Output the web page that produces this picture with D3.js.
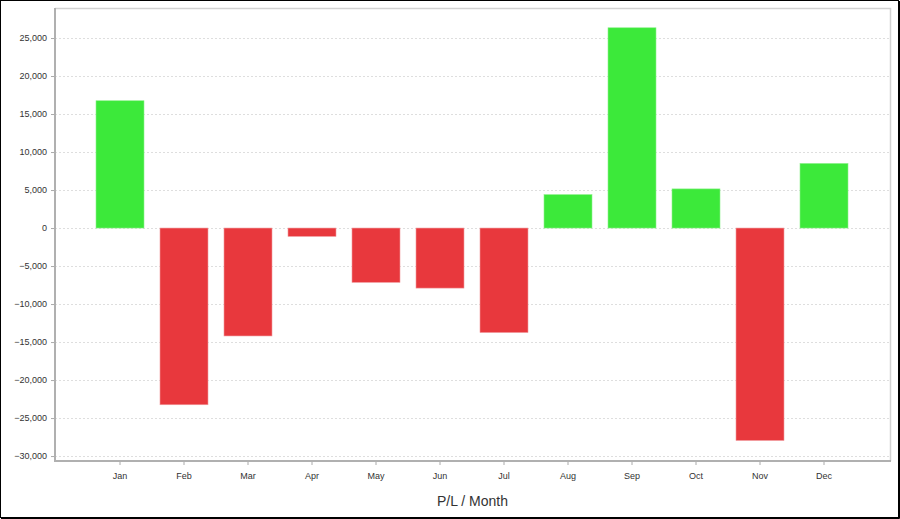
<!DOCTYPE html>
<html>
<head>
<meta charset="utf-8">
<script src="https://cdn.jsdelivr.net/npm/d3@7"></script>
<style>
  body { margin: 0; background: #fff; }
  svg { display: block; font-family: "Liberation Sans", Arial, sans-serif; }
</style>
</head>
<body>
<script>
  // P/L per month
  var months = ["Jan","Feb","Mar","Apr","May","Jun","Jul","Aug","Sep","Oct","Nov","Dec"];
  var pnl = [16750, -23250, -14200, -1100, -7150, -7900, -13750, 4400, 26350, 5150, -27950, 8500];
  var yTicks = [-30000,-25000,-20000,-15000,-10000,-5000,0,5000,10000,15000,20000,25000];

  var width = 900, height = 519;
  var plotLeft = 55, plotRight = 890, plotTop = 8, plotBottom = 461;

  var svg = d3.select("body").append("svg")
              .attr("width", width)
              .attr("height", height);

  svg.append("rect")
     .attr("x", 0).attr("y", 0)
     .attr("width", width).attr("height", height)
     .attr("fill", "#fff");

  var y = d3.scaleLinear()
            .domain([-30650, 28950])
            .range([plotBottom, plotTop]);

  var x = d3.scaleBand()
            .domain(months)
            .range([plotLeft + 33, plotRight - 34])
            .paddingInner(0.25)
            .paddingOuter(0.125);

  // gridlines
  svg.append("g")
     .selectAll("line")
     .data(yTicks)
     .enter()
     .append("line")
     .attr("x1", plotLeft)
     .attr("x2", plotRight)
     .attr("y1", function(d){ return Math.round(y(d)) + 0.5; })
     .attr("y2", function(d){ return Math.round(y(d)) + 0.5; })
     .attr("stroke", "#dedede")
     .attr("stroke-dasharray", "2,2");

  // plot frame (top/right)
  svg.append("path")
     .attr("d", "M" + plotLeft + "," + (plotTop + 0.5) + "H" + (plotRight + 0.5) + "V" + plotBottom)
     .attr("fill", "none")
     .attr("stroke", "#d2d2d2")
     .attr("stroke-width", 1.5);

  // bars
  svg.append("g")
     .selectAll("rect")
     .data(pnl)
     .enter()
     .append("rect")
     .attr("x", function(d, i){ return x(months[i]); })
     .attr("width", x.bandwidth())
     .attr("y", function(d){ return y(Math.max(0, d)); })
     .attr("height", function(d){ return Math.abs(y(d) - y(0)); })
     .attr("fill", function(d){ return d >= 0 ? "#3ce93a" : "#e8383d"; })
     .attr("stroke", function(d){ return d >= 0 ? "#8ef08c" : "#f09a9d"; })
     .attr("stroke-width", 0.6);

  // y axis
  var yAxis = d3.axisLeft(y)
                .tickValues(yTicks)
                .tickSize(3)
                .tickPadding(4)
                .tickFormat(d3.format(","));

  var gy = svg.append("g")
              .attr("transform", "translate(" + (plotLeft - 1) + ",0)")
              .call(yAxis);
  gy.select(".domain").remove();
  gy.selectAll(".tick line").attr("stroke", "#aaa");
  gy.selectAll(".tick text").attr("fill", "#333").attr("font-size", 9);
  svg.append("line")
     .attr("x1", plotLeft).attr("x2", plotLeft)
     .attr("y1", plotTop).attr("y2", plotBottom + 1)
     .attr("stroke", "#b0b0b0").attr("stroke-width", 2);

  // x axis
  var xAxis = d3.axisBottom(x)
                .tickSize(3)
                .tickPadding(8);
  var gx = svg.append("g")
              .attr("transform", "translate(0," + (plotBottom + 1) + ")")
              .call(xAxis);
  gx.select(".domain").remove();
  gx.selectAll(".tick line").attr("stroke", "#aaa");
  gx.selectAll(".tick text").attr("fill", "#333").attr("font-size", 9);
  svg.append("line")
     .attr("x1", plotLeft - 1).attr("x2", plotRight + 1)
     .attr("y1", plotBottom).attr("y2", plotBottom)
     .attr("stroke", "#b0b0b0").attr("stroke-width", 2);

  // axis title
  svg.append("text")
     .attr("x", (plotLeft + plotRight) / 2)
     .attr("y", 506)
     .attr("text-anchor", "middle")
     .attr("font-size", 14)
     .attr("fill", "#333")
     .text("P/L / Month");

  // outer border
  svg.append("rect")
     .attr("x", 0.5).attr("y", 0.5)
     .attr("width", width - 2).attr("height", height - 2)
     .attr("fill", "none")
     .attr("stroke", "#000");
  svg.append("path")
     .attr("d", "M" + (width - 0.5) + ",1V" + (height - 0.5) + "H1")
     .attr("fill", "none")
     .attr("stroke", "#000");
</script>
</body>
</html>
